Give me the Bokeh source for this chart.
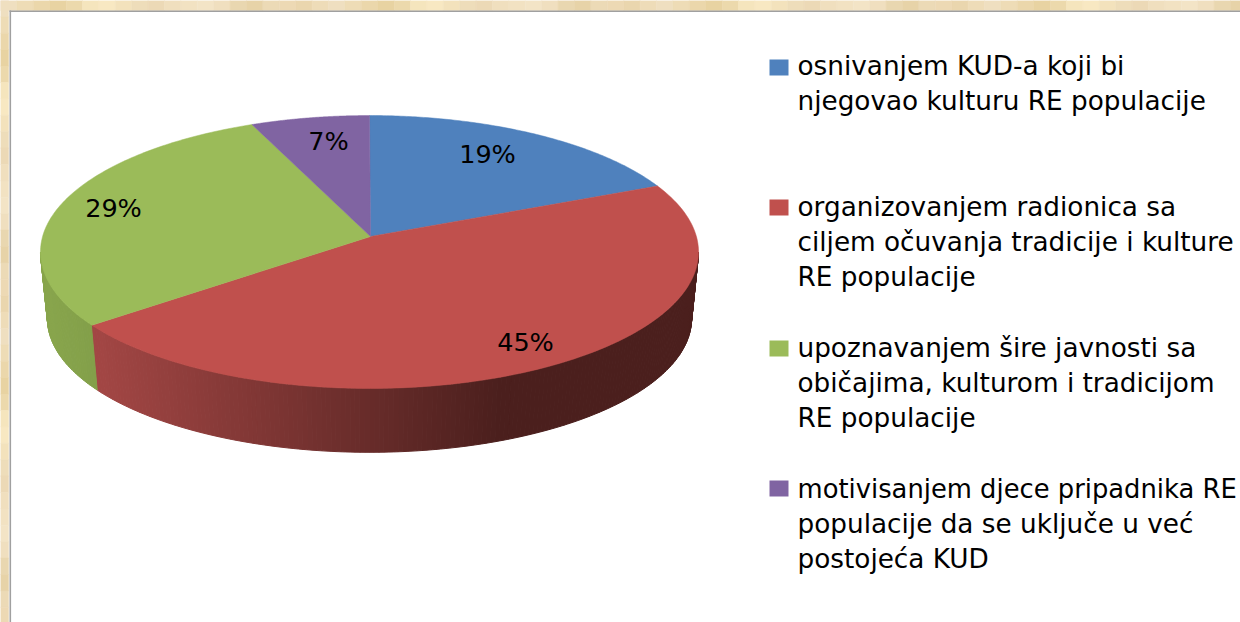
import math
from bokeh.core.properties import value
from bokeh.embed import file_html
from bokeh.models import Range1d
from bokeh.plotting import figure
from bokeh.resources import INLINE

# ---- data ----
shares = [18.6, 45.9, 29.0, 6.5]          # slice sizes, clockwise from 12 o'clock
pct_labels = ["19%", "45%", "29%", "7%"]
slice_colors = ["#4f81bd", "#c0504d", "#9bbb59", "#8064a2"]
legend_lines = [
    ["osnivanjem KUD-a koji bi", "njegovao kulturu RE populacije"],
    ["organizovanjem radionica sa", "ciljem očuvanja tradicije i kulture", "RE populacije"],
    ["upoznavanjem šire javnosti sa", "običajima, kulturom i tradicijom", "RE populacije"],
    ["motivisanjem djece pripadnika RE", "populacije da se uključe u već", "postojeća KUD"],
]

# ---- layout (page pixels) ----
W, H = 1240, 622
FONT = "DejaVu Sans"
CX, TOP_Y, BOT_Y = 369, 236, 303          # apex of the top and bottom faces
TOP_W, TOP_H = 326.9, 134.7
BOT_W, BOT_H = 320.0, 131.9
K = 0.1136                                # perspective foreshortening
LABEL_POS = [(487, 153), (525, 341), (113, 207), (328, 140)]
LEGEND_SWATCH_Y = [67, 207, 348, 488]
LEGEND_FIRST_BASE = [65, 206, 347, 488]
LEGEND_X = 797
LINE_STEP = 35
BAND_TILE = ["#efdfc0", "#eedcb6", "#ebd7ab", "#e8d3a2", "#ecd9ac", "#f5e5bd", "#f8e8c2",
             "#f3e2bc", "#eeddba", "#ecd9b6", "#f0dfbe", "#f2e2c2", "#f3e4c6", "#f0dfbf",
             "#e9d7b0", "#e7d3a8", "#ecdab6", "#edd9b4", "#ead6ae", "#eedcb8"]
BAND_CELL = 16.4


def rim(t, w, h, y0):
    c, s = math.cos(t), math.sin(t)
    d = 1 + K * s
    return CX + w * c / d, y0 - h * s / d


def top(t):
    return rim(t, TOP_W, TOP_H, TOP_Y)


def bottom(t):
    return rim(t, BOT_W, BOT_H, BOT_Y)


def mix(a, b, f):
    f = max(0.0, min(1.0, f))
    return "#%02x%02x%02x" % tuple(round(x + (y - x) * f) for x, y in zip(a, b))


p = figure(width=W, height=H, output_backend="svg", toolbar_location=None,
           x_range=Range1d(0, W), y_range=Range1d(H, 0),
           x_axis_type=None, y_axis_type=None, min_border=0,
           background_fill_color="white", border_fill_color="white", outline_line_color=None)
p.grid.visible = False

# textured band round the picture
n_top = int(W / BAND_CELL) + 1
top_left = [i * BAND_CELL for i in range(n_top)]
top_cols = [BAND_TILE[i % len(BAND_TILE)] for i in range(n_top)]
p.quad(left=top_left, right=[x + BAND_CELL for x in top_left], top=[0] * n_top, bottom=[10] * n_top,
       fill_color=top_cols, line_color=top_cols, line_width=0.5)
n_left = int(H / BAND_CELL) + 1
left_top = [i * BAND_CELL for i in range(n_left)]
left_cols = [BAND_TILE[i % len(BAND_TILE)] for i in range(n_left)]
p.quad(left=[0] * n_left, right=[8] * n_left, top=left_top, bottom=[y + BAND_CELL for y in left_top],
       fill_color=left_cols, line_color=left_cols, line_width=0.5)
# frame lines
p.quad(left=[9], right=[W], top=[10], bottom=[11.5], color="#a0a0a0", line_color=None)
p.quad(left=[9], right=[10.6], top=[10], bottom=[H], color="#a0a0a0", line_color=None)

# slice limits in radians, clockwise from the top
limits = [0.0]
for v in shares:
    limits.append(limits[-1] + v)
total = limits[-1]
ang = [math.pi / 2 - 2 * math.pi * l / total for l in limits]

# side wall, in thin shaded strips
T_RIGHT = -math.asin(K)
T_LEFT = -math.pi + math.asin(K)
RED_LIGHT, RED_DARK = (0xa2, 0x46, 0x44), (0x4b, 0x1f, 0x1d)
GREEN_LIGHT = (0x88, 0xa5, 0x4c)
GREEN_DARK = (0x82, 0x9f, 0x49)
xs, ys, cols = [], [], []
N = 220
for i in range(N):
    t0 = T_RIGHT + (T_LEFT - T_RIGHT) * i / N
    t1 = T_RIGHT + (T_LEFT - T_RIGHT) * (i + 1) / N
    a, b, c, d = top(t0), top(t1), bottom(t1), bottom(t0)
    xs.append([a[0], b[0], c[0], d[0]])
    ys.append([a[1], b[1], c[1], d[1]])
    mid = (a[0] + b[0]) / 2
    if (t0 + t1) / 2 > ang[2]:
        cols.append(mix(RED_LIGHT, RED_DARK, (mid - 98) / (500 - 98)))
    else:
        cols.append(mix(GREEN_LIGHT, GREEN_DARK, (mid - 45) / 50))
p.patches(xs, ys, fill_color=cols, line_color=cols, line_width=1)

# top face
for i, col in enumerate(slice_colors):
    n = 120
    pts = [top(ang[i] + (ang[i + 1] - ang[i]) * j / n) for j in range(n + 1)]
    p.patch([CX + 1] + [q[0] for q in pts], [TOP_Y] + [q[1] for q in pts],
            fill_color=col, line_color=col, line_width=0.5)

# percentage labels
p.text([q[0] for q in LABEL_POS], [q[1] for q in LABEL_POS], text=pct_labels,
       text_font=value(FONT), text_font_size="25.5px", text_color="#000000",
       text_align="center", text_baseline="middle")

# legend
for i, lines in enumerate(legend_lines):
    p.rect([778.5], [LEGEND_SWATCH_Y[i]], width=19, height=16,
           fill_color=slice_colors[i], line_color=None)
    for k, line in enumerate(lines):
        # the longest line is set a touch smaller so that it stays inside the page
        size = "25.8px" if (i, k) == (3, 0) else "26.3px"
        p.text([LEGEND_X], [LEGEND_FIRST_BASE[i] + k * LINE_STEP], text=[line],
               text_font=value(FONT), text_font_size=size, text_color="#000000",
               text_align="left", text_baseline="alphabetic")

open("out.html", "w").write(file_html(p, INLINE))
